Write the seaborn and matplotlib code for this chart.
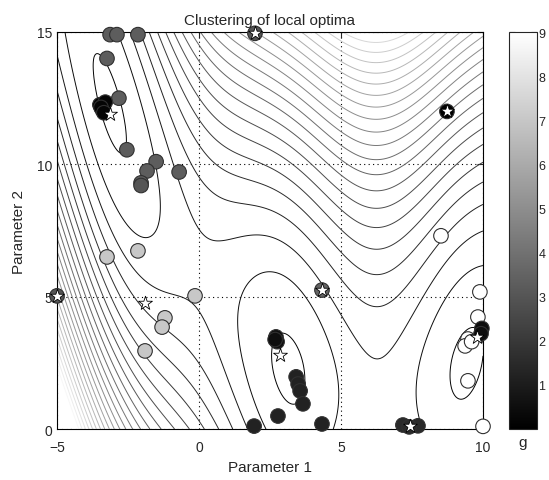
import numpy as np
import matplotlib
matplotlib.use("Agg")
import matplotlib.pyplot as plt
import seaborn as sns
import pandas as pd

sns.set_style("white")
plt.rcParams['font.family'] = ['Liberation Sans', 'DejaVu Sans']

# Branin objective (background contour)
BR_A, BR_B, BR_C, BR_R, BR_S, BR_T = 1.0, 5.1 / (4 * np.pi ** 2), 5 / np.pi, 6.0, 10.0, 1 / (8 * np.pi)
contour_levels = np.arange(2, 312, 10)

# local optima found (x1, x2, cluster value g)
px = [-3.13, -2.89, -2.15, -3.24, -2.82, -2.54, -1.51, -1.83, -0.70, -2.04, -2.04,
      -3.49, -3.40, -3.30, -3.45, -3.35,
      -3.24, -2.15, -0.14, -1.20, -1.30, -1.90,
      2.71, 2.75, 2.68, 3.42, 3.49, 3.56, 3.66, 2.78, 1.94, 4.33, 7.18, 7.71, 7.40,
      8.52, 9.89, 9.82, 9.47, 9.37, 9.47, 10.0, 9.60,
      9.96, 9.93,
      8.73, -5.0, 1.97, 4.33]
py = [14.9, 14.9, 14.9, 14.0, 12.5, 10.55, 10.1, 9.75, 9.71, 9.3, 9.2,
      12.25, 12.05, 12.35, 12.15, 11.95,
      6.5, 6.73, 5.03, 4.2, 3.85, 2.95,
      3.48, 3.3, 3.38, 1.97, 1.70, 1.44, 0.95, 0.49, 0.11, 0.19, 0.15, 0.12, 0.08,
      7.3, 5.18, 4.23, 3.4, 3.14, 1.82, 0.1, 3.3,
      3.8, 3.6,
      12.0, 5.03, 14.95, 5.25]
pg = [3.3, 3.3, 3.3, 3.3, 3.3, 3.3, 3.3, 3.3, 3.3, 3.3, 3.0,
      0.2, 0.2, 0.2, 0.2, 0.2,
      7.0, 7.0, 7.0, 7.0, 7.0, 7.0,
      0.5, 0.5, 0.5, 1.2, 1.2, 1.2, 1.2, 1.2, 1.2, 1.2, 1.5, 1.5, 1.5,
      9.0, 9.0, 9.0, 9.0, 9.0, 9.0, 9.0, 9.0,
      0.5, 0.5,
      0.0, 3.0, 3.0, 3.5]

# cluster centres
star_x = [-3.13, -1.90, 2.85, 9.79, 7.43, 8.73, -5.0, 1.97, 4.33]
star_y = [11.9, 4.76, 2.8, 3.48, 0.12, 12.0, 5.03, 14.95, 5.25]

cbar_ticks = [1, 2, 3, 4, 5, 6, 7, 8, 9]

x1 = np.linspace(-5, 10, 300)
x2 = np.linspace(0, 15, 300)
X1, X2 = np.meshgrid(x1, x2)
Z = BR_A * (X2 - BR_B * X1 ** 2 + BR_C * X1 - BR_R) ** 2 + BR_S * (1 - BR_T) * np.cos(X1) + BR_S

fig = plt.figure(figsize=(5.49, 4.81), dpi=100)
ax = fig.add_axes([57 / 549, 1 - 430 / 481, 426 / 549, 397 / 481])
cax = fig.add_axes([509 / 549, 1 - 430 / 481, 28 / 549, 397 / 481])

ax.contour(X1, X2, Z, levels=contour_levels, cmap="gray", vmin=0, vmax=240, linewidths=0.7)

df = pd.DataFrame({"x": px, "y": py, "g": pg})
sns.scatterplot(data=df, x="x", y="y", hue="g", palette="gray", hue_norm=(0, 9),
                s=110, edgecolor="#303030", linewidth=0.8, legend=False, ax=ax, zorder=3, clip_on=False)
ax.scatter(star_x, star_y, marker="*", s=110, facecolor="white", edgecolor="black",
           linewidth=0.6, zorder=4, clip_on=False)

ax.set_xlim(-5, 10)
ax.set_ylim(0, 15)
ax.set_xticks([-5, 0, 5, 10])
ax.set_yticks([0, 5, 10, 15])
ax.grid(True, linestyle=(0, (1, 3)), color="black", linewidth=0.8)
ax.tick_params(direction="in", length=4, labelsize=10, top=True, right=True)
ax.tick_params(axis="x", pad=8)
for sp in ax.spines.values():
    sp.set_color("black")
    sp.set_linewidth(0.8)
ax.set_xlabel("Parameter 1", fontsize=11)
ax.set_ylabel("Parameter 2", fontsize=11, labelpad=8)
ax.set_title("Clustering of local optima", fontsize=11)

sm = plt.cm.ScalarMappable(cmap="gray", norm=plt.Normalize(0, 9))
cb = fig.colorbar(sm, cax=cax)
cb.set_ticks(cbar_ticks)
cax.tick_params(direction="in", length=4, labelsize=9, left=True, right=True,
                labelright=True, pad=1)
cb.outline.set_linewidth(0.8)
cax.set_xlabel("g", fontsize=11)

fig.savefig("out.png", dpi=100)
